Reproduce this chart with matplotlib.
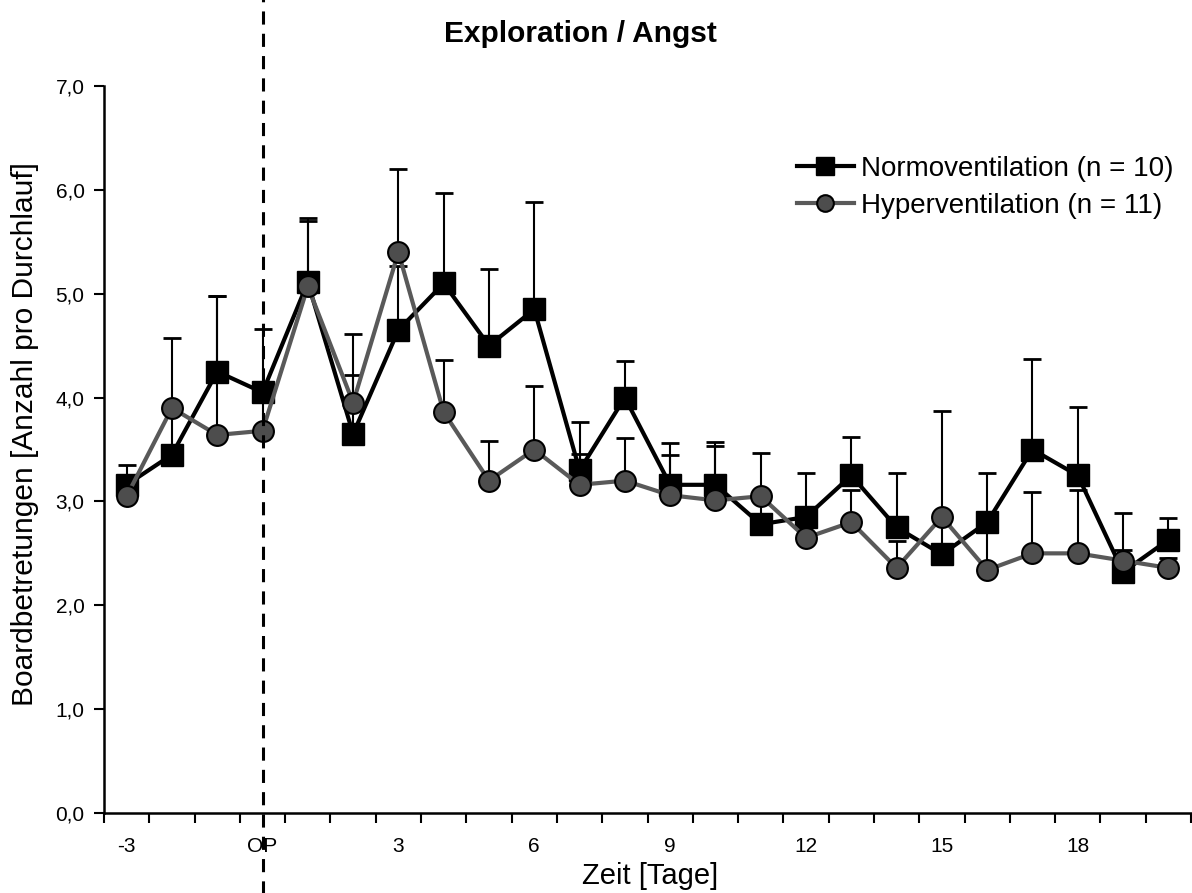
import matplotlib
matplotlib.use("Agg")
import matplotlib.pyplot as plt
import numpy as np

plt.rcParams["font.family"] = ["Liberation Sans", "DejaVu Sans"]

# ---- data ----
days = [-3, -2, -1, 0, 1, 2, 3, 4, 5, 6, 7, 8, 9, 10, 11, 12, 13, 14, 15, 16, 17, 18, 19, 20]
normo_mean = [3.16, 3.45, 4.25, 4.05, 5.11, 3.65, 4.65, 5.10, 4.50, 4.85, 3.30, 4.00,
              3.16, 3.16, 2.78, 2.85, 3.25, 2.75, 2.49, 2.80, 3.50, 3.25, 2.32, 2.63]
normo_sem = [0.19, 0.45, 0.73, 0.61, 0.62, 0.57, 0.62, 0.87, 0.74, 1.03, 0.46, 0.35,
             0.40, 0.41, 0.25, 0.42, 0.37, 0.52, 0.28, 0.47, 0.87, 0.66, 0.57, 0.21]
hyper_mean = [3.05, 3.90, 3.64, 3.68, 5.07, 3.95, 5.40, 3.86, 3.20, 3.50, 3.16, 3.20,
              3.06, 3.01, 3.05, 2.65, 2.80, 2.36, 2.85, 2.34, 2.50, 2.50, 2.43, 2.36]
hyper_sem = [0.10, 0.67, 1.34, 0.30, 0.63, 0.66, 0.80, 0.50, 0.38, 0.61, 0.30, 0.41,
             0.39, 0.52, 0.42, 0.15, 0.31, 0.26, 1.02, 0.45, 0.59, 0.61, 0.10, 0.10]
label_days = [-3, 0, 3, 6, 9, 12, 15, 18]
label_text = ["-3", "OP", "3", "6", "9", "12", "15", "18"]

fig = plt.figure(figsize=(11.92, 8.93), dpi=100)
ax = fig.add_axes([104 / 1192, 80 / 893, 1087 / 1192, 727 / 893])

x = np.array(days)


def upper_bars(xv, mean, err, z):
    top = np.array(mean) + np.array(err)
    ax.vlines(xv, mean, top, color="black", lw=1.5, zorder=z)
    ax.plot(xv, top, ls="none", marker="_", ms=13, mew=2.0, color="black", zorder=z)


upper_bars(x, normo_mean, normo_sem, 2)
upper_bars(x, hyper_mean, hyper_sem, 2)

ax.plot(x, normo_mean, color="black", lw=3.0, marker="s", ms=16,
        mfc="black", mec="black", zorder=3, label="Normoventilation (n = 10)")
ax.plot(x, hyper_mean, color="#595959", lw=3.0, marker="o", ms=15,
        mfc="#4d4d4d", mec="black", mew=1.5, zorder=4, label="Hyperventilation (n = 11)")

# OP marker line, runs past the axes
ax.axvline(0, ymin=-0.12, ymax=1.13, color="black", lw=2.2, ls=(0, (4.3, 3.0)),
           clip_on=False, zorder=5)

ax.set_xlim(days[0] - 0.5, days[-1] + 0.5)
ax.set_ylim(0, 7)
ax.set_yticks(np.arange(0, 8))
ax.set_yticklabels([f"{v},0" for v in range(8)], fontsize=15)
ax.set_xticks(np.arange(days[0] - 0.5, days[-1] + 1.0, 1.0))
ax.set_xticklabels([])
ax.set_xticks(label_days, minor=True)
ax.set_xticklabels(label_text, minor=True, fontsize=15)
ax.tick_params(axis="x", which="major", direction="out", length=7, width=1.5)
ax.tick_params(axis="x", which="minor", length=0, pad=17)
ax.tick_params(axis="y", direction="out", length=7, width=1.5, pad=7)

for s in ("top", "right"):
    ax.spines[s].set_visible(False)
for s in ("left", "bottom"):
    ax.spines[s].set_linewidth(1.8)

fig.text(650 / 1192, 1 - 876 / 893, "Zeit [Tage]", ha="center", va="center", fontsize=21)
fig.text(25 / 1192, 1 - 434 / 893, "Boardbetretungen [Anzahl pro Durchlauf]",
         rotation=90, ha="center", va="center", fontsize=21.5)
fig.text(580 / 1192, 1 - 34 / 893, "Exploration / Angst", ha="center", va="center",
         fontsize=21.5, fontweight="bold")

ax.legend(loc="upper left", bbox_to_anchor=(797 / 1192, 1 - 156 / 893),
          bbox_transform=fig.transFigure, frameon=False, fontsize=20,
          handlelength=2.05, handletextpad=0.25, labelspacing=0.38,
          markerscale=0.8, borderpad=0, borderaxespad=0)

fig.savefig("out.png", dpi=100)
